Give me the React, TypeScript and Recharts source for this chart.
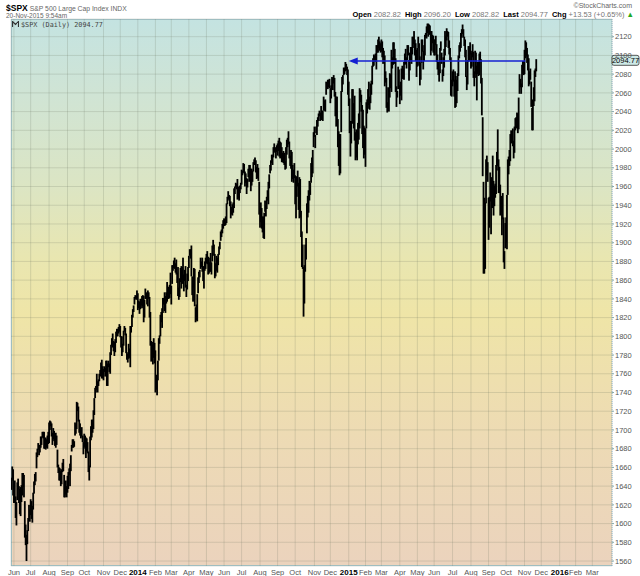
import React from "react";
import { ComposedChart, Bar, XAxis, YAxis, CartesianGrid, ReferenceLine, ReferenceDot } from "recharts";

// daily [low, high] of $SPX (one pair per trading day)
const may2013: [number, number][] = [[1636,1649],[1646,1661],[1630,1658]];

const bars2013: [number, number][] = [
  // Jun
  [1622,1641],[1622,1646],[1606,1629],[1598,1623],[1625,1644],[1637,1648],[1622,1640],[1610,1637],[1608,1639],[1623,1641],
  [1630,1654],[1639,1654],[1628,1652],[1585,1624],[1577,1599],[1560,1588],[1578,1593],[1592,1606],[1606,1620],[1602,1615],
  // Jul
  [1609,1626],[1605,1624],[1601,1619],[1615,1633],[1632,1645],[1641,1653],[1645,1655],[1659,1676],[1671,1680],[1679,1686],[1673,1684],
  [1676,1684],[1681,1693],[1684,1693],[1692,1698],[1691,1698],[1680,1698],[1680,1690],[1679,1692],[1681,1690],[1680,1694],[1685,1698],
  // Aug
  [1686,1708],[1700,1710],[1704,1709],[1693,1707],[1684,1697],[1690,1702],[1688,1699],[1683,1692],[1681,1697],[1684,1694],[1660,1679],
  [1654,1663],[1646,1660],[1646,1659],[1640,1656],[1642,1658],[1655,1665],[1656,1669],[1628,1652],[1628,1641],[1631,1646],[1628,1640],
  // Sep
  [1633,1651],[1637,1655],[1652,1659],[1640,1664],[1656,1673],[1677,1684],[1681,1690],[1681,1690],[1682,1688],[1694,1708],
  [1696,1706],[1701,1730],[1720,1729],[1709,1725],[1697,1711],[1694,1707],[1691,1701],[1693,1703],[1687,1694],[1674,1687],
  // Oct
  [1682,1696],[1680,1694],[1670,1692],[1677,1691],[1675,1687],[1655,1677],[1646,1662],[1660,1693],[1689,1704],[1692,1711],[1697,1711],[1701,1721],
  [1716,1734],[1734,1745],[1740,1747],[1743,1760],[1740,1752],[1747,1754],[1752,1760],[1757,1764],[1763,1772],[1755,1775],[1755,1768],
  // Nov
  [1753,1765],[1762,1768],[1757,1766],[1764,1774],[1747,1774],[1747,1771],[1767,1774],[1762,1771],[1760,1783],[1780,1791],
  [1790,1798],[1788,1803],[1784,1795],[1779,1794],[1783,1797],[1793,1805],[1800,1808],[1800,1808],[1803,1810],[1805,1813],
  // Dec
  [1799,1811],[1788,1800],[1779,1800],[1783,1792],[1790,1806],[1805,1811],[1801,1809],[1782,1803],[1775,1783],[1772,1781],[1776,1792],
  [1777,1787],[1767,1811],[1804,1811],[1810,1823],[1820,1829],[1826,1833],[1834,1842],[1840,1844],[1839,1843],[1841,1849],
];

const bars2014: [number, number][] = [
  // Jan
  [1828,1846],[1830,1838],[1824,1837],[1829,1840],[1833,1840],[1830,1843],[1832,1844],[1815,1843],[1820,1839],[1840,1851],[1840,1847],
  [1834,1846],[1832,1849],[1840,1847],[1820,1842],[1790,1826],[1773,1795],[1783,1794],[1770,1791],[1777,1798],[1771,1793],
  // Feb
  [1740,1785],[1743,1759],[1737,1755],[1753,1774],[1774,1798],[1792,1801],[1800,1823],[1815,1826],[1809,1830],[1825,1841],
  [1834,1841],[1827,1847],[1825,1843],[1835,1847],[1837,1858],[1840,1852],[1840,1853],[1841,1855],[1845,1868],
  // Mar
  [1834,1854],[1856,1876],[1870,1876],[1873,1881],[1872,1884],[1868,1878],[1866,1882],[1857,1868],[1843,1874],[1839,1852],[1842,1862],
  [1858,1873],[1851,1875],[1856,1874],[1864,1884],[1848,1866],[1859,1871],[1852,1875],[1842,1855],[1850,1867],[1859,1874],
  // Apr
  [1873,1886],[1886,1893],[1883,1893],[1864,1897],[1844,1864],[1837,1854],[1852,1873],[1832,1872],[1815,1831],[1817,1834],[1816,1845],
  [1846,1863],[1857,1869],[1863,1871],[1872,1884],[1874,1880],[1869,1884],[1859,1875],[1851,1871],[1870,1880],[1872,1884],
  // May
  [1878,1888],[1877,1891],[1866,1885],[1867,1884],[1869,1879],[1869,1889],[1866,1879],[1880,1897],[1893,1903],[1886,1898],[1862,1888],
  [1864,1878],[1870,1886],[1868,1884],[1876,1888],[1887,1896],[1893,1901],[1902,1912],[1906,1914],[1910,1920],[1915,1924],
  // Jun
  [1918,1926],[1918,1925],[1919,1928],[1921,1942],[1941,1949],[1947,1955],[1945,1951],[1939,1950],[1926,1944],[1930,1938],[1929,1941],
  [1932,1943],[1937,1958],[1952,1960],[1959,1964],[1957,1963],[1946,1968],[1947,1960],[1945,1959],[1953,1961],[1957,1964],
  // Jul
  [1962,1978],[1972,1977],[1975,1985],[1974,1984],[1960,1976],[1964,1974],[1952,1969],[1959,1968],[1970,1979],[1965,1983],[1975,1983],
  [1955,1979],[1961,1979],[1965,1977],[1976,1986],[1983,1989],[1984,1991],[1975,1988],[1968,1981],[1969,1984],[1966,1980],[1930,1965],
  // Aug
  [1916,1933],[1922,1943],[1915,1937],[1911,1928],[1905,1928],[1904,1932],[1933,1945],[1928,1940],[1936,1949],[1945,1956],[1941,1965],
  [1958,1973],[1974,1983],[1977,1988],[1985,1994],[1983,1994],[1991,2002],[1997,2006],[1996,2002],[1990,1999],[1997,2004],
  // Sep
  [1993,2006],[1998,2009],[1992,2012],[1990,2008],[1997,2007],[1986,2002],[1986,1996],[1985,1998],[1983,1996],[1978,1987],[1979,2002],
  [1994,2010],[2002,2012],[2005,2019],[1990,2008],[1982,1993],[1979,1999],[1965,1997],[1968,1983],[1964,1978],[1969,1985],
  // Oct
  [1941,1972],[1926,1952],[1949,1971],[1960,1977],[1935,1964],[1926,1970],[1927,1968],[1906,1934],[1874,1912],[1872,1898],[1821,1874],[1835,1876],
  [1869,1898],[1882,1905],[1910,1942],[1927,1950],[1932,1956],[1945,1966],[1951,1964],[1964,1985],[1970,1991],[1974,1999],[2002,2018],
  // Nov
  [2013,2024],[2001,2015],[2017,2024],[2015,2031],[2024,2034],[2030,2038],[2035,2041],[2030,2039],[2031,2046],[2033,2041],
  [2030,2041],[2041,2056],[2041,2052],[2040,2053],[2058,2072],[2065,2070],[2064,2074],[2066,2074],[2065,2075],
  // Dec
  [2049,2065],[2054,2068],[2066,2077],[2063,2076],[2070,2079],[2056,2076],[2035,2061],[2024,2056],[2028,2056],[2002,2032],[1982,2019],
  [1972,2016],[1974,2016],[2018,2062],[2061,2077],[2069,2079],[2079,2087],[2080,2087],[2083,2093],[2084,2091],[2079,2088],[2058,2085],
];

const bars2015: [number, number][] = [
  // Jan
  [2046,2072],[2017,2054],[1992,2030],[2006,2030],[2027,2064],[2038,2064],[2022,2049],[2009,2057],[1988,2018],[1991,2021],
  [1988,2020],[2005,2028],[2010,2038],[2022,2065],[2050,2063],[2040,2058],[2016,2047],[2001,2042],[1990,2025],[1994,2023],
  // Feb
  [1981,2022],[2022,2050],[2038,2053],[2043,2064],[2047,2072],[2042,2056],[2049,2070],[2058,2073],[2069,2089],[2088,2097],
  [2089,2101],[2093,2100],[2093,2102],[2085,2111],[2103,2111],[2103,2117],[2108,2120],[2105,2115],[2103,2113],
  // Mar
  [2104,2117],[2098,2115],[2091,2108],[2098,2105],[2067,2100],[2071,2083],[2044,2076],[2039,2050],[2041,2066],[2040,2065],[2055,2081],
  [2065,2080],[2061,2106],[2086,2098],[2090,2114],[2104,2114],[2091,2107],[2061,2097],[2045,2067],[2055,2062],[2064,2088],[2067,2085],
  // Apr
  [2048,2068],[2057,2072],[2052,2086],[2075,2089],[2075,2086],[2074,2093],[2090,2102],[2091,2107],[2086,2098],[2095,2111],[2100,2111],
  [2073,2095],[2084,2103],[2094,2109],[2091,2109],[2101,2120],[2112,2120],[2108,2126],[2100,2117],[2094,2113],[2077,2106],
  // May
  [2088,2108],[2108,2120],[2089,2113],[2068,2099],[2074,2092],[2092,2117],[2104,2117],[2085,2105],[2094,2111],[2100,2122],
  [2119,2124],[2118,2131],[2124,2134],[2120,2134],[2122,2133],[2125,2132],[2100,2126],[2105,2126],[2113,2122],[2103,2121],
  // Jun
  [2100,2117],[2100,2117],[2111,2121],[2093,2112],[2085,2101],[2079,2093],[2072,2085],[2081,2108],[2105,2115],[2091,2103],[2072,2085],
  [2078,2098],[2087,2107],[2100,2126],[2109,2121],[2116,2129],[2120,2126],[2108,2125],[2101,2116],[2095,2108],[2057,2098],[2056,2074],
  // Jul
  [2067,2083],[2072,2085],[2056,2074],[2044,2083],[2045,2078],[2049,2074],[2062,2081],[2078,2100],[2097,2111],[2104,2114],[2108,2124],
  [2119,2128],[2123,2133],[2119,2128],[2110,2120],[2098,2117],[2077,2106],[2063,2078],[2069,2095],[2093,2110],[2094,2110],[2101,2114],
  // Aug
  [2086,2105],[2088,2103],[2098,2112],[2076,2104],[2067,2083],[2080,2105],[2076,2103],[2052,2089],[2080,2093],[2078,2093],[2079,2102],
  [2094,2104],[2070,2096],[2036,2076],[1971,2034],[1867,1965],[1867,1948],[1872,1943],[1942,1989],[1972,1993],[1965,1986],
  // Sep
  [1903,1948],[1916,1949],[1944,1975],[1909,1947],[1937,1970],[1937,1993],[1929,1966],[1939,1961],[1948,1963],[1952,1983],[1977,1997],
  [1982,2021],[1953,1989],[1953,1981],[1929,1962],[1933,1950],[1908,1938],[1925,1953],[1879,1927],[1872,1891],[1894,1921],
  // Oct
  [1900,1927],[1893,1951],[1951,1989],[1973,1992],[1982,1999],[1987,2016],[2006,2020],[2008,2019],[2003,2022],[1990,2009],[1996,2024],
  [2020,2033],[2022,2034],[2026,2039],[2017,2038],[2021,2055],[2059,2080],[2066,2075],[2059,2070],[2066,2090],[2080,2094],[2079,2094],
  // Nov
  [2080,2106],[2097,2116],[2099,2114],[2092,2108],[2084,2101],[2067,2097],[2069,2083],[2074,2086],[2045,2072],[2020,2044],
  [2020,2053],[2046,2066],[2051,2084],[2077,2086],[2083,2096],
];

// trading days per month, Jun 2013 .. Mar 2016
const monthDays = [20,22,22,20,23,20,21, 21,19,21,21,21,21,22,21,21,23,19,22, 20,19,22,21,20,22,22,21,21,22,20,22, 19,20,22];
const monthLabels = ["Jun","Jul","Aug","Sep","Oct","Nov","Dec","2014","Feb","Mar","Apr","May","Jun","Jul","Aug","Sep","Oct","Nov","Dec",
  "2015","Feb","Mar","Apr","May","Jun","Jul","Aug","Sep","Oct","Nov","Dec","2016","Feb","Mar"];

const yTicks = [1560,1580,1600,1620,1640,1660,1680,1700,1720,1740,1760,1780,1800,1820,1840,1860,1880,1900,1920,1940,1960,1980,
  2000,2020,2040,2060,2080,2100,2120];

const lastPrice = 2094.77;
const arrowPrice = 2094;
const arrowFromDay = 403; // 2-Jan-2015
const arrowToDay = 614;   // 3-Nov-2015

const rows = [...may2013, ...bars2013, ...bars2014, ...bars2015].map((r, i) => ({ i, range: r }));

const monthStarts: number[] = [];
monthDays.forEach((d, k) => {
  monthStarts.push(k === 0 ? may2013.length : monthStarts[k - 1] + monthDays[k - 1]);
});
const labelAt = new Map(monthStarts.map((s, k) => [s, monthLabels[k]]));

const FONT = "'Liberation Sans', Arial, sans-serif";
const BLUE = "#1420d2";

const MonthTick = (props: any) => {
  const { x, y, payload } = props;
  const label = labelAt.get(payload.value) ?? "";
  const isYear = /^\d{4}$/.test(label);
  return (
    <text x={x} y={y + 9} textAnchor="middle" fontFamily={FONT}
      fontSize={isYear ? 8 : 7.5} fontWeight={isYear ? "bold" : "normal"} fill={isYear ? "#000" : "#555"}>
      {label}
    </text>
  );
};

// thin vertical price bar, kept a fixed width so the daily bars read as a dense black trace
const PriceBar = (p: any) => {
  const { x, y, width, height } = p;
  if (x == null || y == null) return null;
  const top = Math.min(y, y + height);
  return <rect x={x + width / 2 - 0.9} y={top} width={1.8} height={Math.max(Math.abs(height), 1)} fill="#000" />;
};

const ArrowLine = (p: any) => {
  const { x1, y1, x2, y2 } = p;
  return (
    <g>
      <line x1={x1 + 6} y1={y1} x2={x2} y2={y2} stroke={BLUE} strokeWidth={1.5} />
      <polygon points={`${x1},${y1} ${x1 + 9},${y1 - 3.5} ${x1 + 9},${y1 + 3.5}`} fill={BLUE} />
    </g>
  );
};

const PriceTag = (p: any) => {
  const { cx, cy } = p;
  return (
    <g>
      <rect x={cx} y={cy - 5} width={27} height={10} rx={2} fill="#cde9e6" stroke="#333" strokeWidth={0.8} />
      <text x={cx + 13.5} y={cy + 3} textAnchor="middle" fontFamily={FONT} fontSize={7.5} fill="#000">
        {lastPrice.toFixed(2)}
      </text>
    </g>
  );
};

export default function App() {
  return (
    <div style={{ position: "absolute", left: 0, top: 0, width: 640, height: 576, background: "#fff", fontFamily: FONT }}>
      <div
        style={{
          position: "absolute", left: 11, top: 19, width: 601, height: 547, boxSizing: "border-box",
          borderLeft: "1px solid #a6c7cc", borderTop: "1px solid #a6c7cc", borderBottom: "1px solid #a6c7cc",
          background:
            "linear-gradient(to bottom, #c4e3e1 0%, #d0e4d4 14%, #dbe5c4 30%, #e9e6b0 44%, #efe5a7 54%, #eedfae 66%, #eddab5 78%, #ebd3bd 100%)",
        }}
      />
      <div style={{ position: "absolute", left: 0, top: 0 }}>
        <ComposedChart width={640} height={576} data={rows} margin={{ top: 19, right: 0, bottom: 0, left: 11 }}>
          <CartesianGrid stroke="rgba(105,115,95,0.2)" strokeWidth={1} />
          <XAxis
            type="number"
            dataKey="i"
            domain={[-0.5, 717.5]}
            ticks={monthStarts}
            interval={0}
            tick={<MonthTick />}
            tickLine={false}
            axisLine={false}
            tickSize={0}
            tickMargin={0}
            height={10}
            allowDataOverflow
          />
          <YAxis
            orientation="right"
            domain={[1554.7, 2138.9]}
            ticks={yTicks}
            interval={0}
            width={28}
            tickSize={2}
            tickMargin={1}
            tick={{ fontSize: 7.5, fill: "#555", fontFamily: FONT }}
            tickLine={{ stroke: "#8aa" }}
            axisLine={{ stroke: "#8fb3c4", strokeDasharray: "1 1" }}
            allowDataOverflow
          />
          <Bar dataKey="range" fill="#000" shape={PriceBar} isAnimationActive={false} />
          <ReferenceLine
            segment={[{ x: arrowFromDay, y: arrowPrice }, { x: arrowToDay, y: arrowPrice }]}
            shape={ArrowLine}
            ifOverflow="visible"
          />
          <ReferenceDot x={717.5} y={lastPrice} r={0} shape={PriceTag} ifOverflow="visible" />
        </ComposedChart>
      </div>

      {/* header */}
      <div style={{ position: "absolute", left: 6, top: 1, height: 9, whiteSpace: "nowrap", lineHeight: "9px" }}>
        <span style={{ fontSize: 8.5, fontWeight: "bold", color: "#000" }}>$SPX</span>
        <span style={{ fontSize: 6.8, color: "#666", marginLeft: 2 }}>S&amp;P 500 Large Cap Index INDX</span>
      </div>
      <div style={{ position: "absolute", left: 6, top: 12, fontSize: 6.5, color: "#666", whiteSpace: "nowrap", lineHeight: "7px" }}>
        20-Nov-2015 9:54am
      </div>
      <div style={{ position: "absolute", right: 8, top: 2, fontSize: 7, color: "#666", whiteSpace: "nowrap", lineHeight: "8px" }}>
        ©StockCharts.com
      </div>
      <div style={{ position: "absolute", right: 6, top: 11, fontSize: 7.5, color: "#777", whiteSpace: "nowrap", lineHeight: "8px" }}>
        <b style={{ color: "#000" }}>Open</b> 2082.82 <b style={{ color: "#000", marginLeft: 2 }}>High</b> 2096.20{" "}
        <b style={{ color: "#000", marginLeft: 2 }}>Low</b> 2082.82 <b style={{ color: "#000", marginLeft: 2 }}>Last</b> 2094.77{" "}
        <b style={{ color: "#000", marginLeft: 2 }}>Chg</b> +13.53 (+0.65%) <span style={{ color: "#2a2" }}>▲</span>
      </div>
      {/* legend inside plot */}
      <div style={{ position: "absolute", left: 12, top: 21, fontSize: 6.8, color: "#444", whiteSpace: "nowrap", lineHeight: "7px",
        fontFamily: "'DejaVu Sans Mono', monospace" }}>
        <svg width={7} height={6} style={{ marginRight: 2, verticalAlign: "baseline" }}>
          <path d="M0.5 6 V0.5 L3.5 3.5 L6.5 0.5 V6" stroke="#333" strokeWidth={1.2} fill="none" />
        </svg>
        $SPX (Daily) 2094.77
      </div>
    </div>
  );
}
